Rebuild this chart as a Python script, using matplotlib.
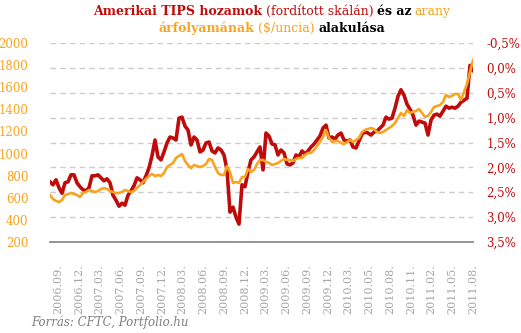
import numpy as np
import matplotlib.pyplot as plt

plt.rcParams['font.family'] = 'DejaVu Serif'

# 10 éves TIPS hozam (%), kb. 9 kereskedési naponként, 2006 aug - 2011 aug
tips = [2.29, 2.35, 2.25, 2.41, 2.52, 2.31, 2.29, 2.15, 2.15, 2.31,
        2.39, 2.45, 2.47, 2.41, 2.17, 2.17, 2.15, 2.21, 2.27, 2.23,
        2.31, 2.56, 2.66, 2.78, 2.72, 2.76, 2.56, 2.47, 2.37, 2.21,
        2.25, 2.31, 2.17, 2.01, 1.77, 1.45, 1.79, 1.85, 1.69, 1.51,
        1.39, 1.41, 1.45, 1.01, 0.99, 1.17, 1.25, 1.55, 1.39, 1.45,
        1.69, 1.65, 1.51, 1.49, 1.67, 1.71, 1.61, 1.65, 1.75, 2.05,
        2.90, 2.80, 3.00, 3.14, 2.35, 2.39, 2.09, 1.85, 1.79, 1.69,
        1.59, 2.05, 1.31, 1.37, 1.53, 1.55, 1.75, 1.65, 1.71, 1.93,
        1.95, 1.91, 1.75, 1.79, 1.67, 1.73, 1.67, 1.59, 1.53, 1.45,
        1.37, 1.21, 1.15, 1.41, 1.39, 1.43, 1.35, 1.31, 1.45, 1.47,
        1.45, 1.59, 1.61, 1.47, 1.33, 1.29, 1.31, 1.35, 1.29, 1.27,
        1.21, 1.15, 0.99, 1.03, 1.01, 0.81, 0.57, 0.44, 0.55, 0.73,
        0.83, 0.95, 1.15, 1.07, 1.09, 1.11, 1.35, 1.05, 0.95, 0.93,
        0.97, 0.87, 0.77, 0.81, 0.79, 0.81, 0.77, 0.69, 0.65, 0.61,
        -0.05, 0.05]

# arany ($/uncia), ugyanazokon a napokon
gold = [625, 589, 571, 562, 580, 625, 634, 643, 634, 625,
        607, 643, 652, 670, 661, 652, 661, 679, 688, 679,
        661, 652, 643, 643, 652, 670, 661, 652, 661, 688,
        716, 743, 770, 797, 815, 797, 806, 797, 824, 878,
        896, 915, 960, 978, 996, 933, 896, 869, 896, 887,
        878, 887, 906, 951, 942, 878, 824, 806, 806, 887,
        833, 734, 743, 734, 788, 788, 860, 833, 851, 906,
        942, 942, 924, 915, 896, 906, 915, 933, 951, 942,
        942, 933, 951, 960, 960, 987, 1005, 1005, 1032, 1068,
        1105, 1150, 1213, 1141, 1105, 1114, 1114, 1095, 1086, 1105,
        1123, 1105, 1123, 1141, 1195, 1213, 1222, 1231, 1222, 1195,
        1186, 1195, 1213, 1231, 1249, 1276, 1322, 1367, 1340, 1394,
        1367, 1376, 1385, 1403, 1367, 1331, 1340, 1376, 1421, 1430,
        1439, 1466, 1530, 1512, 1521, 1539, 1539, 1484, 1557, 1629,
        1738, 1846]

labels = ["2006.09.", "2006.12.", "2007.03.", "2007.06.", "2007.09.",
          "2007.12.", "2008.03.", "2008.06.", "2008.09.", "2008.12.",
          "2009.03.", "2009.06.", "2009.09.", "2009.12.", "2010.03.",
          "2010.05.", "2010.08.", "2010.11.", "2011.02.", "2011.05.",
          "2011.08."]

gold_ticks = list(range(200, 2001, 200))
tips_ticks = [-0.5, 0.0, 0.5, 1.0, 1.5, 2.0, 2.5, 3.0, 3.5]

RED = '#C00B0B'
ORANGE = '#F8A41E'
GREY = '#A6A6A6'

W, H = 521, 333
fig = plt.figure(figsize=(W / 100, H / 100), dpi=100)
ax = fig.add_axes([50 / W, 1 - 242 / H, 423 / W, 199 / H])
ax2 = ax.twinx()

x_t = np.arange(len(tips))
x_g = np.arange(len(gold))

# TIPS: jobb oldali, fordított skála, ehhez tartoznak a rácsvonalak
ax.plot(x_t, tips, color=RED, lw=2.6)
ax.set_ylim(3.5, -0.5)
ax.set_yticks(tips_ticks)
ax.set_yticklabels([f"{v:.1f}%".replace('.', ',') for v in tips_ticks])
ax.yaxis.tick_right()
ax.tick_params(axis='y', which='both', left=False, right=False,
               labelleft=False, labelright=True, pad=6,
               labelcolor=RED, labelsize=8.5)
ax.grid(axis='y', ls=(0, (4, 3)), color='#CCCCCC', lw=1)
ax.set_axisbelow(True)
for s in ['top', 'left', 'right']:
    ax.spines[s].set_visible(False)
ax.spines['bottom'].set_color('#8C8C8C')
ax.spines['bottom'].set_linewidth(1.3)

n = len(tips) - 1
step = (n - 2.67) / (len(labels) - 1)
ax.set_xticks([2.67 + step * i for i in range(len(labels))])
ax.set_xticklabels(labels, rotation=90)
ax.tick_params(axis='x', length=0, pad=16, labelcolor=GREY, labelsize=8)
ax.set_xlim(0, n)

# arany: bal oldali skála
ax2.plot(x_g, gold, color=ORANGE, lw=1.9)
ax2.set_ylim(200, 2000)
ax2.set_yticks(gold_ticks)
ax2.tick_params(axis='y', which='both', left=False, right=False,
                labelleft=True, labelright=False, pad=12,
                labelcolor=ORANGE, labelsize=8.5)
for s in ax2.spines.values():
    s.set_visible(False)


def title_line(parts, y, cx, size=9):
    r = fig.canvas.get_renderer()
    items = []
    total = 0
    gap = 3.5
    for s, c, w in parts:
        t = fig.text(0, y, s, color=c, fontweight=w, fontsize=size, va='baseline')
        wd = t.get_window_extent(r).width
        items.append((t, wd))
        total += wd
    total += gap * (len(parts) - 1)
    xx = cx - total / 2
    for t, wd in items:
        t.set_x(xx / W)
        xx += wd + gap


title_line([("Amerikai TIPS hozamok", RED, 'bold'),
            ("(fordított skálán)", RED, 'normal'),
            ("és az", 'black', 'bold'),
            ("arany", ORANGE, 'normal')], 1 - 15 / H, 272)
title_line([("árfolyamának", ORANGE, 'bold'),
            ("($/uncia)", ORANGE, 'normal'),
            ("alakulása", 'black', 'bold')], 1 - 32 / H, 272)

fig.text(31 / W, 1 - 326 / H, "Forrás: CFTC, Portfolio.hu", style='italic',
         color='#7F7F7F', fontsize=8.5, va='baseline')

fig.savefig('out.png', dpi=100, facecolor='white')
